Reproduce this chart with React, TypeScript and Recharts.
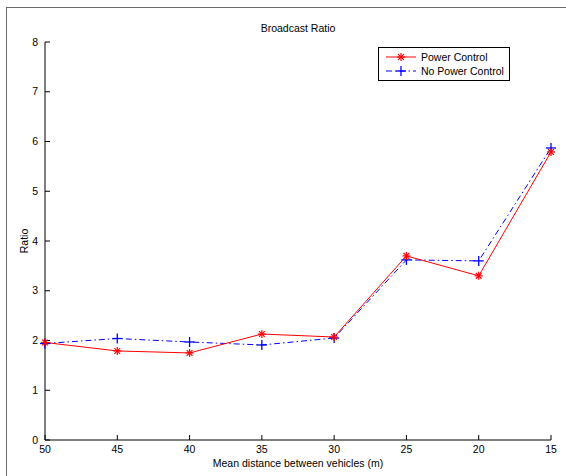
import React from 'react'
import { LineChart, Line, XAxis, YAxis } from 'recharts'

// Broadcast ratio vs. mean inter-vehicle distance
const distances = [50, 45, 40, 35, 30, 25, 20, 15]
const powerControl = [1.96, 1.79, 1.75, 2.13, 2.07, 3.7, 3.3, 5.79]
const noPowerControl = [1.94, 2.04, 1.97, 1.91, 2.05, 3.62, 3.6, 5.87]
const yTicks = [0, 1, 2, 3, 4, 5, 6, 7, 8]

const FONT = '"Liberation Sans", Arial, Helvetica, sans-serif'
const RED = '#ff0000'
const BLUE = '#0000ff'
const BLUE_DASH = '6 3 1.5 3'

const data = distances.map((d, i) => ({
  d,
  pc: powerControl[i],
  npc: noPowerControl[i],
}))

// asterisk marker
const StarDot = (props: any) => {
  const { cx, cy } = props
  if (cx == null || cy == null) return null
  const r = 4
  const k = r * 0.72
  return (
    <g stroke={RED} strokeWidth={1.2}>
      <line x1={cx - r} y1={cy} x2={cx + r} y2={cy} />
      <line x1={cx} y1={cy - r} x2={cx} y2={cy + r} />
      <line x1={cx - k} y1={cy - k} x2={cx + k} y2={cy + k} />
      <line x1={cx - k} y1={cy + k} x2={cx + k} y2={cy - k} />
    </g>
  )
}

// plus marker
const PlusDot = (props: any) => {
  const { cx, cy } = props
  if (cx == null || cy == null) return null
  const r = 5
  return (
    <g stroke={BLUE} strokeWidth={1.3}>
      <line x1={cx - r} y1={cy} x2={cx + r} y2={cy} />
      <line x1={cx} y1={cy - r} x2={cx} y2={cy + r} />
    </g>
  )
}

const LegendBox = () => (
  <div
    style={{
      position: 'absolute',
      left: 378,
      top: 47,
      width: 124,
      border: '1px solid #000',
      background: '#fff',
      padding: '2px 0 2px 6px',
      fontFamily: FONT,
      fontSize: 10.5,
      lineHeight: '14px',
      whiteSpace: 'nowrap',
    }}
  >
    <div style={{ display: 'flex', alignItems: 'center' }}>
      <svg width={32} height={14}>
        <line x1={1} y1={7} x2={31} y2={7} stroke={RED} strokeWidth={1} />
        <StarDot cx={16} cy={7} />
      </svg>
      <span style={{ marginLeft: 4 }}>Power Control</span>
    </div>
    <div style={{ display: 'flex', alignItems: 'center' }}>
      <svg width={32} height={14}>
        <line x1={1} y1={7} x2={31} y2={7} stroke={BLUE} strokeWidth={1} strokeDasharray={BLUE_DASH} />
        <PlusDot cx={16} cy={7} />
      </svg>
      <span style={{ marginLeft: 4 }}>No Power Control</span>
    </div>
  </div>
)

export default function App() {
  return (
    <div
      style={{
        position: 'absolute',
        left: 0,
        top: 0,
        width: 566,
        height: 476,
        background: '#fff',
        fontFamily: FONT,
        overflow: 'hidden',
      }}
    >
      {/* figure frame */}
      <div
        style={{
          position: 'absolute',
          left: 6,
          top: 7,
          right: 0,
          bottom: 0,
          borderTop: '1px solid #6a6a6a',
          borderLeft: '1px solid #6a6a6a',
        }}
      />
      <div
        style={{
          position: 'absolute',
          left: 0,
          width: 596,
          top: 22,
          textAlign: 'center',
          fontSize: 10.5,
        }}
      >
        Broadcast Ratio
      </div>
      <div
        style={{
          position: 'absolute',
          left: 0,
          width: 596,
          top: 457,
          textAlign: 'center',
          fontSize: 10.5,
        }}
      >
        Mean distance between vehicles (m)
      </div>
      <div
        style={{
          position: 'absolute',
          left: 24,
          top: 241,
          fontSize: 10.5,
          transform: 'translate(-50%, -50%) rotate(-90deg)',
          whiteSpace: 'nowrap',
        }}
      >
        Ratio
      </div>
      <div style={{ position: 'absolute', left: 0, top: 0 }}>
        <LineChart
          width={566}
          height={476}
          data={data}
          margin={{ top: 42, right: 15, bottom: 0, left: 15 }}
        >
          <XAxis
            dataKey="d"
            type="number"
            domain={[15, 50]}
            reversed
            ticks={distances}
            interval={0}
            height={36}
            stroke="#000"
            tickSize={-5}
            tickMargin={11}
            tick={{ fill: '#000', fontSize: 10.5, fontFamily: FONT }}
          />
          <YAxis
            type="number"
            domain={[0, 8]}
            ticks={yTicks}
            width={30}
            stroke="#000"
            tickSize={-5}
            tickMargin={12}
            tick={{ fill: '#000', fontSize: 10.5, fontFamily: FONT }}
          />
          <Line
            dataKey="npc"
            stroke={BLUE}
            strokeWidth={1}
            strokeDasharray={BLUE_DASH}
            dot={<PlusDot />}
            activeDot={false}
            isAnimationActive={false}
          />
          <Line
            dataKey="pc"
            stroke={RED}
            strokeWidth={1}
            dot={<StarDot />}
            activeDot={false}
            isAnimationActive={false}
          />
        </LineChart>
      </div>
      <LegendBox />
    </div>
  )
}
